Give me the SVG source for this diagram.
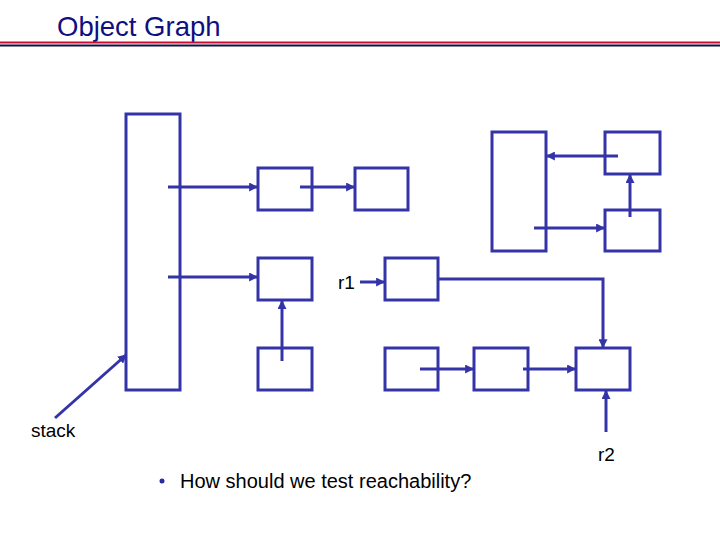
<svg xmlns="http://www.w3.org/2000/svg" width="720" height="540" viewBox="0 0 720 540">
<style>
.box{fill:none;stroke:#3434a8;stroke-width:3}
.ln{fill:none;stroke:#3434a8;stroke-width:3;marker-end:url(#ah)}
.t{font-family:"Liberation Sans",Arial,sans-serif;fill:#000}
</style>
<defs>
<marker id="ah" viewBox="0 0 8 8" refX="7" refY="4" markerWidth="3" markerHeight="3" orient="auto" markerUnits="strokeWidth">
<path d="M0,0 L8,4 L0,8 z" fill="#3434a8"/>
</marker>
</defs>
<rect width="720" height="540" fill="#fff"/>
<g id="title">
<text x="57" y="36" class="t" font-size="27.5" style="fill:#0f0f80">Object Graph</text>
<line x1="0" y1="42.5" x2="720" y2="42.5" stroke="#c8102e" stroke-width="2"/>
<line x1="0" y1="45.5" x2="720" y2="45.5" stroke="#10104a" stroke-width="2"/>
</g>
<g id="stack"><rect class="box" x="126" y="114" width="54" height="276"/></g>
<g id="a"><rect class="box" x="258" y="168" width="54" height="42"/></g>
<g id="b"><rect class="box" x="355" y="168" width="53" height="42"/></g>
<g id="c"><rect class="box" x="258" y="258" width="54" height="42"/></g>
<g id="d"><rect class="box" x="258" y="348" width="54" height="42"/></g>
<g id="r1box"><rect class="box" x="385" y="258" width="53" height="42"/></g>
<g id="e1"><rect class="box" x="385" y="348" width="53" height="42"/></g>
<g id="e2"><rect class="box" x="474" y="348" width="54" height="42"/></g>
<g id="f"><rect class="box" x="576" y="348" width="54" height="42"/></g>
<g id="tall"><rect class="box" x="492" y="132" width="54" height="119"/></g>
<g id="g"><rect class="box" x="605" y="132" width="55" height="42"/></g>
<g id="h"><rect class="box" x="605" y="210" width="55" height="41"/></g>
<g id="connectors">
<line class="ln" x1="168" y1="187" x2="257" y2="187"/>
<line class="ln" x1="300" y1="187" x2="354" y2="187"/>
<line class="ln" x1="168" y1="277" x2="257" y2="277"/>
<line class="ln" x1="282" y1="361" x2="282" y2="301"/>
<line class="ln" x1="360" y1="282" x2="384" y2="282"/>
<polyline class="ln" points="438,279 603,279 603,347"/>
<line class="ln" x1="420" y1="369" x2="473" y2="369"/>
<line class="ln" x1="523" y1="369" x2="575" y2="369"/>
<line class="ln" x1="606" y1="432" x2="606" y2="391"/>
<line class="ln" x1="618" y1="156" x2="547" y2="156"/>
<line class="ln" x1="534" y1="228" x2="604" y2="228"/>
<line class="ln" x1="630" y1="217" x2="630" y2="175"/>
<line class="ln" x1="55" y1="418" x2="126" y2="355"/>
</g>
<g id="labels">
<text x="338" y="289" class="t" font-size="19">r1</text>
<text x="31" y="437" class="t" font-size="19">stack</text>
<text x="598" y="461" class="t" font-size="19">r2</text>
<circle cx="162" cy="481" r="2.5" fill="#2a2aa0"/>
<text x="180" y="488" class="t" font-size="20">How should we test reachability?</text>
</g>
</svg>
